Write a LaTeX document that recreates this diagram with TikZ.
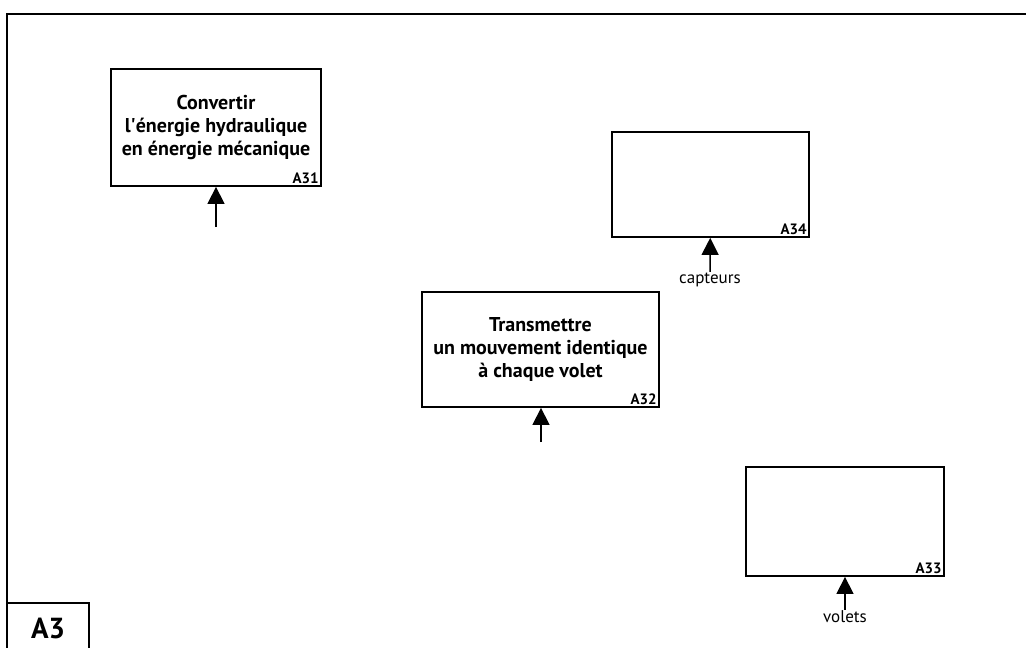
\documentclass[tikz,border=0pt]{standalone}
\usepackage{fontspec}
\setmainfont{PT Sans}
\usepackage{tikz}
\usetikzlibrary{arrows.meta,positioning}

\begin{document}
\begin{tikzpicture}[x=1pt,y=-1pt,
  fbox/.style={rectangle, draw, line width=1.8pt, inner sep=0pt, align=center, font=\fontsize{20}{23}\selectfont\bfseries},
  ref/.style={anchor=south east, inner sep=3pt, font=\fontsize{15}{17}\selectfont\bfseries},
  ctrl/.style={-{Triangle[width=17pt,length=17pt]}, line width=1.4pt},
  lbl/.style={inner sep=1pt, font=\fontsize{17}{19}\selectfont}
]
  \useasboundingbox (0,0) rectangle (1026,648);

  % cadre
  \draw[line width=1.8pt] (1026,14) -- (7,14) -- (7,648);
  \draw[line width=1.8pt] (7,603) -- (89,603) -- (89,648);
  \node[font=\fontsize{29}{31}\selectfont\bfseries] (a3) at (48,628) {A3};

  \node[fbox, minimum width=210pt, minimum height=117pt] (a31) at (216,127.5)
    {Convertir\\l\textquotesingle énergie hydraulique\\en énergie mécanique};
  \node[ref] at (a31.south east) {A31};

  \node[fbox, minimum width=197pt, minimum height=105pt] (a34) at (710.5,184.5) {};
  \node[ref] at (a34.south east) {A34};

  \node[fbox, minimum width=237pt, minimum height=115pt] (a32) at (540.5,349.5)
    {Transmettre\\un mouvement identique\\à chaque volet};
  \node[ref] at (a32.south east) {A32};

  \node[fbox, minimum width=198pt, minimum height=109pt] (a33) at (845,521.5) {};
  \node[ref] at (a33.south east) {A33};

  \coordinate (t31) at (216,227);
  \coordinate (t32) at (541,442);
  \node[lbl] (capteurs) at (710,280) {capteurs};
  \node[lbl] (volets) at (845,617) {volets};

  \draw[ctrl] (t31) -- (a31);
  \draw[ctrl] (t32) -- (a32.south -| t32);
  \draw[ctrl] (capteurs) -- (a34);
  \draw[ctrl] (volets) -- (a33);
\end{tikzpicture}
\end{document}
